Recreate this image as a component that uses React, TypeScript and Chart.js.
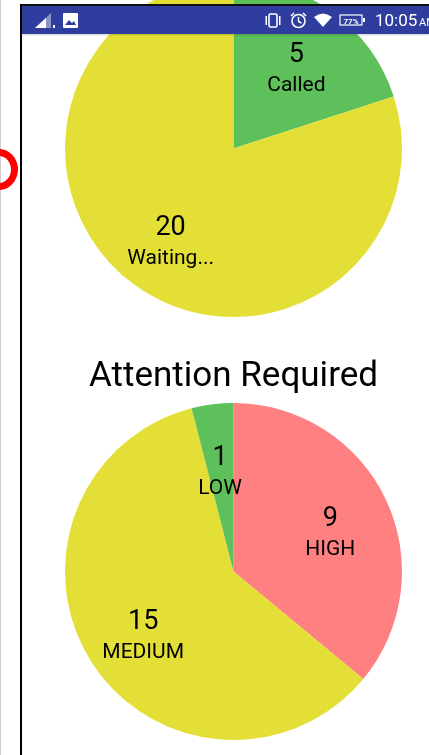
import React, { useEffect, useRef } from "react";
import { Chart, registerables } from "chart.js";

Chart.register(...registerables);

const calledLabels = ["Called", "Waiting..."];
const calledValues = [5, 20];
const calledColors = ["#5DC05A", "#E4DF37"];

const attentionLabels = ["HIGH", "MEDIUM", "LOW"];
const attentionValues = [9, 15, 1];
const attentionColors = ["#FF8080", "#E4DF37", "#5DC05A"];

const attentionTitle = "Attention Required";
const clock = "10:05";
const clockSuffix = "AM";

const sliceLabels = {
  id: "sliceLabels",
  afterDatasetsDraw(chart: any) {
    const { ctx } = chart;
    const meta = chart.getDatasetMeta(0);
    const ds = chart.data.datasets[0];
    ctx.save();
    ctx.textAlign = "center";
    ctx.textBaseline = "alphabetic";
    ctx.fillStyle = "#000";
    meta.data.forEach((arc: any, i: number) => {
      const mid = (arc.startAngle + arc.endAngle) / 2;
      const r = arc.outerRadius * 0.635;
      const x = arc.x + Math.cos(mid) * r;
      const y = arc.y + Math.sin(mid) * r;
      ctx.font = "27px Roboto";
      ctx.fillText(String(ds.data[i]), x, y);
      ctx.font = "21px Roboto";
      ctx.fillText(chart.data.labels[i], x, y + 29);
    });
    ctx.restore();
  },
};

function Pie({ labels, values, colors, title, top, height, bottomPad }: any) {
  const ref = useRef<HTMLCanvasElement>(null);
  useEffect(() => {
    const chart = new Chart(ref.current!, {
      type: "pie",
      data: { labels, datasets: [{ data: values, backgroundColor: colors, borderWidth: 0 }] },
      options: {
        animation: false,
        responsive: false,
        layout: { padding: { bottom: bottomPad } },
        plugins: {
          legend: { display: false },
          tooltip: { enabled: false },
          title: title
            ? {
                display: true,
                text: title,
                color: "#000",
                font: { family: "Roboto", size: 35, weight: "normal", lineHeight: 1.2 },
                padding: { top: 3, bottom: 5 },
              }
            : { display: false },
        },
      },
      plugins: [sliceLabels],
    } as any);
    return () => chart.destroy();
  }, []);
  return (
    <canvas
      ref={ref}
      width={391}
      height={height}
      style={{ position: "absolute", left: 38, top, width: 391, height }}
    />
  );
}

function StatusIcons() {
  const bar = "#2E3D9E";
  return (
    <svg width={429} height={34} style={{ position: "absolute", left: 0, top: 0 }}>
      <polygon points="35,28 51,13 51,28" fill="#fff" opacity={0.45} />
      <polygon points="35,28 46,18 46,28" fill="#fff" />
      <rect x={53} y={25} width={2} height={3} fill="#fff" />
      <rect x={63} y={13} width={15} height={15} rx={1} fill="#fff" />
      <polygon points="65,25 69,20 72,23 74,21 76,25" fill={bar} />
      <rect x={269} y={14} width={8} height={13} rx={1.5} fill="none" stroke="#fff" strokeWidth={1.6} />
      <rect x={265.5} y={16} width={1.5} height={9} fill="#fff" />
      <rect x={279} y={16} width={1.5} height={9} fill="#fff" />
      <circle cx={298.5} cy={21} r={6.5} fill="none" stroke="#fff" strokeWidth={1.6} />
      <path d="M298.5 17 V21.5 L301.5 23" fill="none" stroke="#fff" strokeWidth={1.4} />
      <path d="M291 16 L294 13 M306 16 L303 13" stroke="#fff" strokeWidth={1.6} />
      <polygon points="314,17 332,17 323,27" fill="#fff" />
      <path d="M314 17 Q323 10 332 17 Z" fill="#fff" />
      <rect x={340} y={15} width={22} height={10} fill="none" stroke="#fff" strokeWidth={1.2} />
      <rect x={363} y={18} width={2} height={4} fill="#fff" />
      <text x={351} y={23.5} fontSize={8} fontFamily="Roboto" fontWeight="bold" fill="#fff" textAnchor="middle">77%</text>
      <text x={375} y={26} fontSize={17} fontFamily="Roboto" fill="#fff">{clock}</text>
      <text x={419} y={26} fontSize={11} fontFamily="Roboto" fill="#fff">{clockSuffix}</text>
    </svg>
  );
}

export default function App() {
  useEffect(() => {
    document.body.style.margin = "0";
    document.body.style.background = "#fff";
    document.body.style.overflow = "hidden";
  }, []);
  return (
    <div style={{ position: "relative", width: 429, height: 755, overflow: "hidden", background: "#fff" }}>
      <Pie labels={calledLabels} values={calledValues} colors={calledColors} top={-20} height={337} bottomPad={0} />
      <Pie
        labels={attentionLabels}
        values={attentionValues}
        colors={attentionColors}
        title={attentionTitle}
        top={353}
        height={390}
        bottomPad={3}
      />
      <div
        style={{
          position: "absolute",
          left: 22,
          top: 6,
          width: 407,
          height: 28,
          background: "#2E3D9E",
          boxShadow: "0 1px 2px rgba(0,0,0,0.18)",
        }}
      />
      <div style={{ position: "absolute", left: 0, top: 0 }}>
        <StatusIcons />
      </div>
      <div style={{ position: "absolute", left: 20, top: 4, width: 409, height: 2, background: "#111" }} />
      <div style={{ position: "absolute", left: 20, top: 4, width: 2, height: 751, background: "#000" }} />
      <div style={{ position: "absolute", left: 0, top: 0, width: 1, height: 755, background: "#ccc" }} />
      <div
        style={{
          position: "absolute",
          left: -20,
          top: 149,
          width: 38,
          height: 41,
          boxSizing: "border-box",
          border: "7px solid #F00",
          borderRadius: "50%",
        }}
      />
    </div>
  );
}
